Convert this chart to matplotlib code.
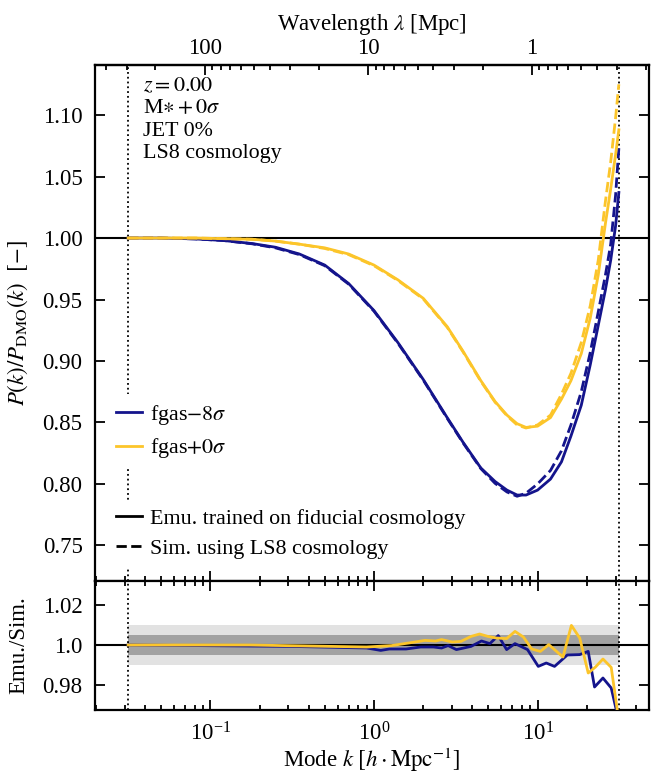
import matplotlib.pyplot as plt
import numpy as np
from matplotlib.lines import Line2D
from matplotlib.ticker import LogLocator, NullFormatter

plt.rcParams["font.family"] = ["Liberation Serif", "DejaVu Serif"]
plt.rcParams["mathtext.fontset"] = "stix"
plt.rcParams["font.size"] = 16.5

# ---- data ----
k_main = [0.0314, 0.05, 0.08, 0.12, 0.18, 0.25, 0.35, 0.5, 0.7, 1.0, 1.4, 2.0, 2.8, 3.5, 4.5,
          5.5, 6.5, 7.5, 8.5, 10, 12, 14, 16, 18.5, 21, 23.5, 26, 28, 30, 31.4]
emu_fgas_m8 = [1.000, 1.000, 0.9993, 0.998, 0.9955, 0.9925, 0.987, 0.978, 0.963, 0.941, 0.915,
               0.885, 0.854, 0.834, 0.813, 0.802, 0.795, 0.791, 0.791, 0.795, 0.804, 0.818,
               0.839, 0.864, 0.897, 0.929, 0.958, 0.982, 1.010, 1.037]
sim_fgas_m8 = [1.000, 1.000, 0.9993, 0.998, 0.9953, 0.992, 0.9865, 0.9775, 0.9625, 0.9405, 0.9145,
               0.8845, 0.8535, 0.8335, 0.8125, 0.8005, 0.7935, 0.790, 0.7925, 0.800, 0.811, 0.827,
               0.848, 0.875, 0.907, 0.940, 0.970, 0.995, 1.035, 1.073]
emu_fgas_p0 = [1.000, 1.000, 1.000, 0.9995, 0.999, 0.9975, 0.995, 0.992, 0.987, 0.978, 0.966,
               0.951, 0.928, 0.908, 0.884, 0.867, 0.856, 0.849, 0.846, 0.847, 0.854, 0.869,
               0.884, 0.906, 0.935, 0.970, 1.012, 1.040, 1.068, 1.088]
sim_fgas_p0 = [1.000, 1.000, 1.000, 0.9995, 0.999, 0.9975, 0.995, 0.9915, 0.9865, 0.9775, 0.9655,
               0.9505, 0.9275, 0.9075, 0.8835, 0.8665, 0.8555, 0.848, 0.8455, 0.848, 0.856, 0.873,
               0.890, 0.915, 0.945, 0.982, 1.030, 1.062, 1.098, 1.125]

k_ratio_m8 = [0.0314, 0.31, 0.90, 1.10, 1.24, 1.57, 1.93, 2.31, 2.59, 2.84, 3.19, 3.92, 4.54,
              5.11, 5.75, 6.47, 7.28, 8.68, 10.1, 11.3, 12.7, 15.2, 18.1, 20.4, 22.3, 25.1,
              28.2, 31.4]
ratio_m8 = [1.000, 0.9993, 0.9985, 0.9973, 0.998, 0.998, 0.999, 0.999, 0.9985, 0.9997, 0.9977,
            0.9993, 1.002, 1.0007, 1.0047, 0.9977, 1.0007, 0.9977, 0.9893, 0.991, 0.9893, 0.995,
            0.9952, 0.9968, 0.979, 0.9835, 0.9785, 0.962]
k_ratio_p0 = [0.0314, 0.173, 0.90, 1.28, 1.72, 2.05, 2.38, 2.59, 3.01, 3.40, 3.92, 4.42, 4.97,
              5.58, 6.47, 7.28, 8.19, 9.21, 10.4, 11.7, 14.3, 16.1, 18.1, 20.4, 22.6, 25.1,
              28.2, 31.4]
ratio_p0 = [1.000, 1.000, 0.999, 0.9997, 1.0013, 1.0023, 1.002, 1.0027, 1.0015, 1.0018, 1.0043,
            1.0055, 1.0043, 1.0035, 1.0032, 1.0068, 1.004, 0.998, 0.9968, 1.0002, 0.994, 1.0098,
            1.0035, 0.986, 0.989, 0.993, 0.9888, 0.962]

k_range = [0.0314, 31.4]
h = 0.681
c_blue = "#14148c"
c_yell = "#fcc52a"

fig = plt.figure(figsize=(6.51, 7.75), dpi=100)
ax = fig.add_axes([95 / 651, 1 - 581 / 775, 554 / 651, 516 / 775])
axr = fig.add_axes([95 / 651, 1 - 710 / 775, 554 / 651, 129 / 775], sharex=ax)

# main panel
ax.axhline(1.0, color="k", lw=1.5, zorder=1)
for kk in k_range:
    ax.axvline(kk, color="k", ls=":", lw=1.3, zorder=1)
ax.plot(k_main, emu_fgas_m8, color=c_blue, lw=2, zorder=3)
ax.plot(k_main, sim_fgas_m8, color=c_blue, lw=2, ls="--", zorder=3)
ax.plot(k_main, emu_fgas_p0, color=c_yell, lw=2, zorder=3)
ax.plot(k_main, sim_fgas_p0, color=c_yell, lw=2, ls="--", zorder=3)

ax.set_xscale("log")
ax.set_xlim(0.0197, 48)
ax.set_ylim(0.7211, 1.1407)
ax.set_yticks(np.arange(0.75, 1.101, 0.05))
ax.set_yticklabels([f"{v:.2f}" for v in np.arange(0.75, 1.101, 0.05)])
ax.set_ylabel(r"$P(k)/P_{\rm DMO}(k)$  $[-]$")
ax.yaxis.set_label_coords(-0.118, 0.5)
ax.tick_params(which="both", direction="in", top=False, right=True, labelbottom=False, width=1.3)
ax.tick_params(which="major", length=7)
ax.tick_params(which="minor", length=3.5)
ax.tick_params(axis="y", pad=9)

ax.text(0.087, 0.978,
        "$z=0.00$\nM$\\ast+0\\sigma$\nJET 0%\nLS8 cosmology",
        transform=ax.transAxes, va="top", ha="left", fontsize=15.8, linespacing=1.25)

h1 = [Line2D([], [], color=c_blue, lw=2), Line2D([], [], color=c_yell, lw=2)]
leg1 = ax.legend(h1, [r"fgas$-8\sigma$", r"fgas$+0\sigma$"], loc="upper left",
                 bbox_to_anchor=(0.022, 0.362), frameon=True, framealpha=1, edgecolor="none",
                 fancybox=False, handlelength=1.2, handletextpad=0.35, labelspacing=0.42,
                 borderaxespad=0, fontsize=15.8)
ax.add_artist(leg1)
h2 = [Line2D([], [], color="k", lw=2), Line2D([], [], color="k", lw=2, ls="--")]
ax.legend(h2, ["Emu. trained on fiducial cosmology", "Sim. using LS8 cosmology"],
          loc="upper left", bbox_to_anchor=(0.022, 0.157), frameon=True, framealpha=1,
          edgecolor="none", fancybox=False, handlelength=1.2, handletextpad=0.35,
          labelspacing=0.42, borderaxespad=0, fontsize=15.8)

# top wavelength axis
def k_to_lam(k):
    return 2 * np.pi / (h * np.asarray(k, dtype=float))

sec = ax.secondary_xaxis("top", functions=(k_to_lam, k_to_lam))
sec.set_xticks([100, 10, 1])
sec.set_xticklabels(["100", "10", "1"])
sec.xaxis.set_minor_locator(LogLocator(base=10, subs=np.arange(2, 10)))
sec.xaxis.set_minor_formatter(NullFormatter())
sec.tick_params(which="both", direction="in", width=1.3)
sec.tick_params(which="major", length=7, pad=4)
sec.tick_params(which="minor", length=3.5)
sec.set_xlabel(r"Wavelength $\lambda$ [Mpc]", labelpad=6)

# ratio panel
axr.fill_between(k_range, 0.99, 1.01, color="#e2e2e2", lw=0, zorder=0)
axr.fill_between(k_range, 0.995, 1.005, color="#a2a2a2", lw=0, zorder=0)
axr.axhline(1.0, color="k", lw=1.5, zorder=1)
for kk in k_range:
    axr.axvline(kk, color="k", ls=":", lw=1.3, zorder=1)
axr.plot(k_ratio_m8, ratio_m8, color=c_blue, lw=2, zorder=3)
axr.plot(k_ratio_p0, ratio_p0, color=c_yell, lw=2, zorder=3)
axr.set_ylim(0.9675, 1.032)
axr.set_yticks([0.98, 1.0, 1.02])
axr.set_yticklabels(["0.98", "1.0", "1.02"])
axr.set_ylabel("Emu./Sim.")
axr.yaxis.set_label_coords(-0.118, 0.5)
axr.set_xlabel(r"Mode $k$ $[h\cdot{\rm Mpc}^{-1}]$", labelpad=0)
axr.tick_params(which="both", direction="in", top=True, right=True, width=1.3)
axr.tick_params(which="major", length=7)
axr.tick_params(which="minor", length=3.5)
axr.tick_params(axis="x", which="major", pad=9)
axr.tick_params(axis="y", pad=9)

for a in (ax, axr):
    for s in a.spines.values():
        s.set_linewidth(1.6)
sec.spines["top"].set_linewidth(1.6)

fig.savefig("out.png", dpi=100)
